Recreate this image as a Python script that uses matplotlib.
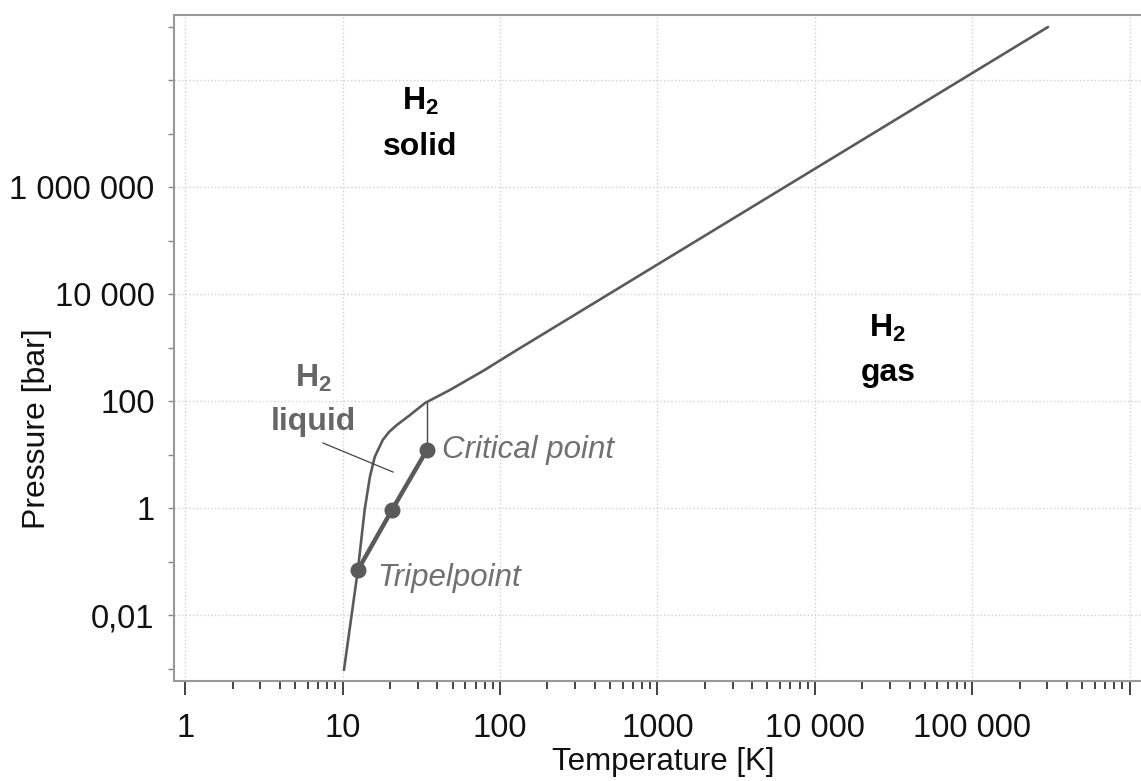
import numpy as np
import matplotlib
matplotlib.use('Agg')
import matplotlib.pyplot as plt
from matplotlib.ticker import FixedLocator, FixedFormatter

plt.rcParams['font.family'] = ['Liberation Sans', 'DejaVu Sans']
plt.rcParams['mathtext.fontset'] = 'custom'
plt.rcParams['mathtext.rm'] = 'Liberation Sans'
plt.rcParams['mathtext.bf'] = 'Liberation Sans:bold'

# melting / sublimation curve (T in K, p in bar)
melt_T = [10.2, 12.5, 13.8, 14.9, 16.0, 17.0, 18.0, 19.7, 22.1, 26.8, 33.4, 48.1, 77.9, 128, 303000]
melt_P = [9.4e-4, 0.069, 0.92, 3.8, 9.0, 13.2, 18.7, 26.3, 35.6, 54.7, 91.8, 161, 364, 898, 9.8e8]

# vaporization curve: triple point, boiling point, critical point
vap_T = [12.5, 20.5, 34.3]
vap_P = [0.069, 0.9, 12.1]

# thin line from the critical point up to the melting curve
crit_T = [34.3, 34.3]
crit_P = [12.1, 92]

# leader line of the "liquid" label
lead_T = [7.5, 20.9]
lead_P = [16.4, 4.7]

x_ticks = [1, 10, 100, 1000, 1e4, 1e5, 1e6]
x_labels = ['1', '10', '100', '1000', '10 000', '100 000', '']
y_major = [1e-2, 1, 1e2, 1e4, 1e6, 1e8]
y_labels = ['0,01', '1', '100', '10 000', '1 000 000', '']
y_minor = [1e-3, 1e-1, 10, 1e3, 1e5, 1e7, 1e9]

W, H = 1141, 781
fig = plt.figure(figsize=(W / 100, H / 100), dpi=100)
ax = fig.add_axes([174 / W, 1 - 681 / H, (W - 174) / W, 666 / H])
ax.set_xscale('log')
ax.set_yscale('log')
ax.set_xlim(10 ** -0.0712, 10 ** 6.072)
ax.set_ylim(10 ** ((508 - 681) / 53.5), 10 ** ((508 - 15) / 53.5))

line_c = '#5a5a5a'
ax.plot(melt_T, melt_P, color=line_c, lw=1.9, solid_capstyle='round',
        solid_joinstyle='round', zorder=3)
ax.plot(vap_T, vap_P, color=line_c, lw=3.2, solid_capstyle='round', zorder=3)
ax.plot(vap_T, vap_P, 'o', color=line_c, ms=10.5, zorder=4)
ax.plot(crit_T, crit_P, color='#444444', lw=1.0, zorder=3)
ax.plot(lead_T, lead_P, color='#444444', lw=0.9, zorder=3)

# ticks
ax.xaxis.set_major_locator(FixedLocator(x_ticks))
ax.xaxis.set_major_formatter(FixedFormatter(x_labels))
ax.xaxis.set_minor_locator(FixedLocator(
    [m * 10 ** e for e in range(0, 6) for m in range(2, 10)]))
ax.xaxis.set_minor_formatter(FixedFormatter([]))
ax.yaxis.set_major_locator(FixedLocator(y_major))
ax.yaxis.set_major_formatter(FixedFormatter(y_labels))
ax.yaxis.set_minor_locator(FixedLocator(y_minor))
ax.yaxis.set_minor_formatter(FixedFormatter([]))

ax.tick_params(axis='x', which='major', direction='out', length=10, width=1.2,
               color='#222222', labelsize=23.5, pad=13, labelcolor='#111111')
ax.tick_params(axis='x', which='minor', direction='out', length=6, width=1.2,
               color='#222222')
ax.tick_params(axis='y', which='both', direction='out', length=4, width=1.0,
               color='#888888', labelsize=23.5, pad=10, labelcolor='#111111')

ax.grid(True, which='major', color='#d0d0d0', linestyle=':', linewidth=1.0)
ax.set_axisbelow(True)

for side in ['top', 'left', 'bottom']:
    ax.spines[side].set_color('#999999')
    ax.spines[side].set_linewidth(1.5)
ax.spines['right'].set_visible(False)

# region labels
fs = 23
ax.text(31.0, 3.9e7, r'$\mathbf{H_2}$', ha='center', va='center', fontsize=fs, color='black')
ax.text(31.0, 5.6e6, 'solid', ha='center', va='center', fontsize=fs,
        fontweight='bold', color='black')
ax.text(29100, 2313, r'$\mathbf{H_2}$', ha='center', va='center', fontsize=fs, color='black')
ax.text(29100, 334, 'gas', ha='center', va='center', fontsize=fs,
        fontweight='bold', color='black')
ax.text(6.5, 269, r'$\mathbf{H_2}$', ha='center', va='center', fontsize=fs, color='#666666')
ax.text(6.5, 40.5, 'liquid', ha='center', va='center', fontsize=fs,
        fontweight='bold', color='#666666')

ax.text(42.8, 12.1, 'Critical point', ha='left', va='center', fontsize=22.5,
        style='italic', color='#707070')
ax.text(16.5, 0.049, 'Tripelpoint', ha='left', va='center', fontsize=22.5,
        style='italic', color='#707070')

fig.text(37 / W, 1 - 429 / H, 'Pressure [bar]', rotation=90, ha='center',
         va='center', fontsize=23, color='#111111')
fig.text(663 / W, 1 - 762 / H, 'Temperature [K]', ha='center', va='center',
         fontsize=22.5, color='#111111')

fig.savefig('out.png', dpi=100)
